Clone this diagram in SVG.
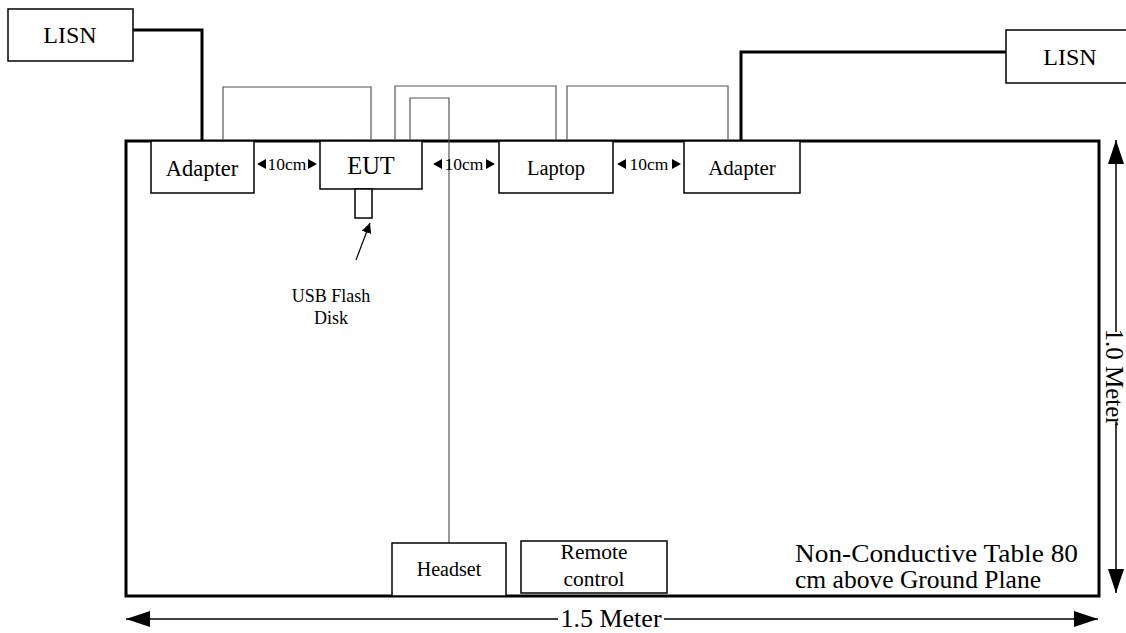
<svg xmlns="http://www.w3.org/2000/svg" width="1126" height="633" viewBox="0 0 1126 633">
<defs>
<style>
.t{font-family:"Liberation Serif","Times New Roman",serif;fill:#000;text-anchor:middle}
.box{fill:#fff;stroke:#000;stroke-width:1.5}
.thick{fill:none;stroke:#000;stroke-width:3}
.cable{fill:none;stroke:#555;stroke-width:1.2}
.dim{fill:none;stroke:#000;stroke-width:1.5}
</style>
<marker id="ah" viewBox="0 0 10 10" refX="10" refY="5" markerWidth="10" markerHeight="10" markerUnits="userSpaceOnUse" orient="auto"><path d="M0,0 L10,5 L0,10 Z" fill="#000"/></marker>
<marker id="big" viewBox="0 0 24 16" refX="24" refY="8" markerWidth="24" markerHeight="16" markerUnits="userSpaceOnUse" orient="auto"><path d="M0,0 L24,8 L0,16 Z" fill="#000"/></marker>
</defs>
<rect width="1126" height="633" fill="#fff"/>

<g id="table">
<rect x="126" y="141" width="973" height="455" class="thick"/>
</g>

<g id="connectors">
<polyline class="thick" points="133,30 202,30 202,141"/>
<polyline class="thick" points="1006,52 741,52 741,141"/>
<polyline class="cable" points="223,141 223,87 371,87 371,141"/>
<polyline class="cable" points="395,141 395,86 556,86 556,141"/>
<polyline class="cable" points="410,141 410,98 449,98 449,543"/>
<polyline class="cable" points="567,141 567,86 728,86 728,141"/>
<line x1="356" y1="260" x2="370" y2="223" stroke="#000" stroke-width="1.2" marker-end="url(#ah)"/>
</g>

<g id="lisn-left"><rect x="8" y="9" width="125" height="52" class="box"/><text x="70" y="43" class="t" font-size="24">LISN</text></g>
<g id="lisn-right"><rect x="1006" y="30" width="125" height="53" class="box"/><text x="1070" y="65" class="t" font-size="24">LISN</text></g>

<g id="adapter-left"><rect x="151" y="141" width="103" height="52" class="box"/><text x="202" y="176" class="t" font-size="22.5">Adapter</text></g>
<g id="eut"><rect x="320" y="141" width="102" height="48" class="box"/><text x="371" y="174" class="t" font-size="24.5">EUT</text></g>
<g id="usb"><rect x="355" y="189" width="17" height="29" class="box"/>
<text x="331" y="302" class="t" font-size="18">USB Flash</text><text x="331" y="324" class="t" font-size="18">Disk</text></g>
<g id="laptop"><rect x="499" y="141" width="114" height="52" class="box"/><text x="556" y="175" class="t" font-size="20.5">Laptop</text></g>
<g id="adapter-right"><rect x="684" y="141" width="116" height="52" class="box"/><text x="742" y="175" class="t" font-size="21">Adapter</text></g>

<g id="gap1"><path d="M257,164 L266,159 L266,169 Z M317,164 L308,159 L308,169 Z"/><text x="287" y="170" class="t" font-size="17.5">10cm</text></g>
<g id="gap2"><path d="M433,164 L442,159 L442,169 Z M495,164 L486,159 L486,169 Z"/><text x="464" y="170" class="t" font-size="17.5">10cm</text></g>
<g id="gap3"><path d="M617,164 L626,159 L626,169 Z M681,164 L672,159 L672,169 Z"/><text x="649" y="170" class="t" font-size="17.5">10cm</text></g>

<g id="headset"><rect x="392" y="543" width="114" height="53" class="box"/><text x="449" y="576" class="t" font-size="20">Headset</text></g>
<g id="remote"><rect x="521" y="541" width="146" height="52" class="box"/><text x="594" y="559" class="t" font-size="21.5">Remote</text><text x="594" y="586" class="t" font-size="21.5">control</text></g>

<g id="note"><text x="795" y="562" font-family="Liberation Serif, serif" font-size="25" textLength="283" lengthAdjust="spacingAndGlyphs">Non-Conductive Table 80</text><text x="795" y="588" font-family="Liberation Serif, serif" font-size="25" textLength="246" lengthAdjust="spacingAndGlyphs">cm above Ground Plane</text></g>

<g id="dim-h">
<line x1="558" y1="619" x2="126" y2="619" class="dim" marker-end="url(#big)"/>
<line x1="664" y1="619" x2="1098" y2="619" class="dim" marker-end="url(#big)"/>
<text x="611" y="627" class="t" font-size="26">1.5 Meter</text>
</g>
<g id="dim-v">
<line x1="1116" y1="332" x2="1116" y2="140" class="dim" marker-end="url(#big)"/>
<line x1="1116" y1="422" x2="1116" y2="593" class="dim" marker-end="url(#big)"/>
<text transform="translate(1106,377) rotate(90)" class="t" font-size="25">1.0 Meter</text>
</g>
</svg>
